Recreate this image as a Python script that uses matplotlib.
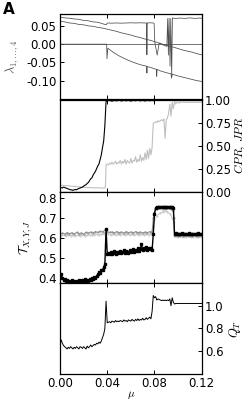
import numpy as np
import matplotlib
matplotlib.use("Agg")
import matplotlib.pyplot as plt
from matplotlib.ticker import FormatStrFormatter

plt.rcParams['mathtext.fontset'] = 'cm'

# ---- panel 1: Lyapunov exponents ----
lam1_mu = [0.000, 0.004, 0.008, 0.012, 0.016, 0.020, 0.024, 0.028, 0.032, 0.036, 0.0392,
           0.0398, 0.0405, 0.044, 0.048, 0.052, 0.056, 0.060, 0.064, 0.068, 0.072, 0.0733,
           0.0736, 0.0739, 0.0760, 0.0790, 0.0797, 0.0803, 0.0823, 0.0840, 0.0860, 0.0880,
           0.0905, 0.0912, 0.0918, 0.0924, 0.0932, 0.0938, 0.0946, 0.0952, 0.0960, 0.098,
           0.102, 0.106, 0.110, 0.114, 0.118, 0.120]
lam1 = [0.074, 0.072, 0.071, 0.069, 0.068, 0.065, 0.064, 0.061, 0.060, 0.056, 0.053,
        0.057, 0.058, 0.0575, 0.058, 0.0575, 0.058, 0.0585, 0.058, 0.0585, 0.058, 0.058,
        -0.029, 0.058, 0.0585, 0.058, 0.057, 0.005, -0.030, 0.003, 0.000, -0.003,
        -0.006, 0.070, -0.030, 0.071, -0.060, 0.070, -0.088, 0.072, 0.071, 0.0705,
        0.0715, 0.0705, 0.072, 0.0705, 0.0715, 0.071]

lam2_mu = [0.000, 0.004, 0.008, 0.012, 0.016, 0.020, 0.024, 0.028, 0.032, 0.036, 0.040,
           0.044, 0.048, 0.052, 0.056, 0.060, 0.064, 0.068, 0.072, 0.076, 0.080, 0.084,
           0.088, 0.092, 0.096, 0.100, 0.104, 0.108, 0.112, 0.116, 0.120]
lam2 = [0.063, 0.061, 0.058, 0.057, 0.054, 0.053, 0.050, 0.049, 0.046, 0.044, 0.041,
        0.038, 0.035, 0.031, 0.028, 0.025, 0.021, 0.018, 0.014, 0.011, 0.007, 0.003,
        -0.001, -0.005, -0.008, -0.012, -0.016, -0.019, -0.022, -0.026, -0.029]

lam3_mu = [0.000, 0.120]
lam3 = [0.000, 0.000]

lam4_mu = [0.000, 0.0395, 0.0398, 0.0405, 0.045, 0.050, 0.055, 0.060, 0.065, 0.070,
           0.0733, 0.0736, 0.0739, 0.0780, 0.0816, 0.0819, 0.0822, 0.085, 0.090, 0.0940,
           0.0945, 0.0950, 0.0960, 0.100, 0.105, 0.110, 0.115, 0.120]
lam4 = [0.000, 0.000, -0.040, -0.011, -0.022, -0.032, -0.040, -0.047, -0.053, -0.058,
        -0.060, -0.079, -0.061, -0.065, -0.069, -0.088, -0.069, -0.073, -0.078, -0.081,
        -0.093, -0.082, -0.083, -0.087, -0.091, -0.095, -0.099, -0.102]

# ---- panel 2: CPR, JPR ----
cpr_mu = ([i / 1000 for i in range(0, 40)] + [0.040, 0.042, 0.044, 0.046, 0.048, 0.050,
          0.052, 0.054, 0.056, 0.058, 0.060, 0.062, 0.064, 0.066, 0.068, 0.070, 0.072,
          0.074, 0.076, 0.078, 0.0795, 0.080, 0.120])
cpr = [0.04, 0.045, 0.04, 0.05, 0.045, 0.04, 0.035, 0.03, 0.025, 0.02,
       0.02, 0.015, 0.02, 0.025, 0.02, 0.03, 0.035, 0.04, 0.045, 0.05,
       0.06, 0.07, 0.075, 0.09, 0.10, 0.12, 0.14, 0.15, 0.18, 0.20,
       0.22, 0.25, 0.28, 0.30, 0.35, 0.40, 0.48, 0.55, 0.72, 0.98,
       0.985, 0.99, 0.982, 0.99, 0.985, 0.992, 0.984, 0.99, 0.986, 0.99, 0.983,
       0.99, 0.986, 0.992, 0.985, 0.99, 0.984, 0.99, 0.986, 0.99, 0.985, 1.0, 1.0]

jpr_mu = ([i / 1000 for i in range(0, 39, 2)] + [0.0385]
          + [i / 1000 for i in range(39, 121)])
jpr = [0.070, 0.068, 0.066, 0.065, 0.063, 0.060, 0.058, 0.055, 0.052, 0.050,
       0.048, 0.046, 0.045, 0.044, 0.043, 0.042, 0.042, 0.041, 0.040, 0.040, 0.06,
       0.29,
       0.30, 0.29, 0.31, 0.30, 0.32, 0.30, 0.31, 0.33, 0.30, 0.32,
       0.31, 0.34, 0.30, 0.33, 0.31, 0.35, 0.30, 0.34, 0.32, 0.31,
       0.36, 0.31, 0.34, 0.33, 0.38, 0.32, 0.35, 0.33, 0.40, 0.33,
       0.37, 0.34, 0.42, 0.35, 0.45, 0.36, 0.47, 0.40, 0.48, 0.74,
       0.75, 0.76, 0.75, 0.77, 0.76, 0.77, 0.78, 0.77, 0.79, 0.58,
       0.78, 0.80, 0.85, 0.95, 0.82, 0.97, 0.90, 0.98, 0.95, 0.97,
       0.97, 0.96, 0.975, 0.97, 0.97, 0.972, 0.968, 0.97, 0.97, 0.972,
       0.97, 0.97, 0.968, 0.97, 0.972, 0.97, 0.97, 0.97, 0.97, 0.97, 0.97]

# ---- panel 3: T_X, T_Y, T_J ----
tj_mu = [i / 1000 for i in range(0, 121)]
tj = [0.415, 0.42, 0.40, 0.39, 0.395, 0.385, 0.39, 0.38, 0.385, 0.38,
      0.39, 0.38, 0.385, 0.378, 0.385, 0.38, 0.39, 0.383, 0.38, 0.39,
      0.385, 0.395, 0.38, 0.39, 0.385, 0.395, 0.39, 0.40, 0.395, 0.405,
      0.40, 0.41, 0.42, 0.43, 0.425, 0.44, 0.44, 0.455, 0.47, 0.645,
      0.52, 0.525, 0.52, 0.53, 0.52, 0.525, 0.535, 0.52, 0.53, 0.525,
      0.53, 0.535, 0.525, 0.53, 0.54, 0.525, 0.535, 0.53, 0.525, 0.54,
      0.53, 0.535, 0.545, 0.53, 0.54, 0.535, 0.55, 0.535, 0.545, 0.57,
      0.54, 0.55, 0.545, 0.555, 0.54, 0.55, 0.545, 0.55, 0.54, 0.62,
      0.72, 0.75, 0.755, 0.755, 0.755, 0.755, 0.755, 0.755, 0.755, 0.755,
      0.755, 0.755, 0.755, 0.755, 0.755, 0.755, 0.75, 0.62, 0.625, 0.62,
      0.622, 0.618, 0.62, 0.624, 0.62, 0.618, 0.622, 0.62, 0.619, 0.623,
      0.62, 0.618, 0.622, 0.62, 0.621, 0.618, 0.62, 0.623, 0.62, 0.619, 0.62]

tx_mu = ([i / 1000 for i in range(0, 79, 2)]
         + [0.079, 0.080, 0.082, 0.085, 0.088, 0.090, 0.092, 0.094, 0.096, 0.0965, 0.097]
         + [i / 1000 for i in range(98, 121, 2)])
tx = [0.618, 0.625, 0.62, 0.627, 0.622, 0.626, 0.62, 0.628, 0.622, 0.625,
      0.62, 0.628, 0.624, 0.63, 0.626, 0.632, 0.628, 0.633, 0.63, 0.64,
      0.632, 0.628, 0.63, 0.626, 0.632, 0.627, 0.63, 0.625, 0.632, 0.627,
      0.63, 0.626, 0.632, 0.627, 0.63, 0.625, 0.63, 0.627, 0.632, 0.628,
      0.70, 0.73, 0.745, 0.75, 0.75, 0.745, 0.75, 0.745, 0.735, 0.70, 0.612,
      0.613, 0.61, 0.612, 0.611, 0.613, 0.61, 0.612, 0.611, 0.613, 0.61, 0.612, 0.611]

ty_mu = ([i / 1000 for i in range(1, 80, 2)]
         + [0.080, 0.082, 0.085, 0.087, 0.0875, 0.088, 0.091, 0.093, 0.095, 0.0962, 0.0968]
         + [i / 1000 for i in range(99, 121, 2)])
ty = [0.612, 0.615, 0.61, 0.616, 0.612, 0.614, 0.61, 0.615, 0.612, 0.616,
      0.611, 0.615, 0.613, 0.617, 0.614, 0.618, 0.615, 0.62, 0.618, 0.63,
      0.62, 0.616, 0.618, 0.614, 0.619, 0.615, 0.618, 0.614, 0.619, 0.615,
      0.618, 0.614, 0.619, 0.615, 0.618, 0.613, 0.618, 0.615, 0.62, 0.66,
      0.69, 0.71, 0.725, 0.73, 0.745, 0.735, 0.73, 0.72, 0.70, 0.68, 0.608,
      0.606, 0.608, 0.605, 0.607, 0.606, 0.608, 0.605, 0.607, 0.606, 0.607, 0.606]

# ---- panel 4: Q_T ----
q_mu = [i / 1000 for i in range(0, 121)]
q = [0.66, 0.70, 0.67, 0.65, 0.64, 0.63, 0.62, 0.635, 0.625, 0.64,
     0.63, 0.62, 0.635, 0.625, 0.64, 0.63, 0.62, 0.64, 0.635, 0.625,
     0.64, 0.63, 0.62, 0.645, 0.63, 0.64, 0.655, 0.64, 0.65, 0.66,
     0.655, 0.67, 0.665, 0.68, 0.67, 0.69, 0.72, 0.75, 0.80, 1.04,
     0.85, 0.855, 0.86, 0.85, 0.865, 0.86, 0.855, 0.87, 0.86, 0.865,
     0.86, 0.87, 0.865, 0.86, 0.875, 0.865, 0.87, 0.86, 0.875, 0.87,
     0.865, 0.88, 0.87, 0.865, 0.88, 0.87, 0.885, 0.87, 0.88, 0.875,
     0.89, 0.875, 0.88, 0.895, 0.88, 0.89, 0.90, 0.885, 0.95, 1.09,
     1.07, 1.08, 1.05, 1.06, 1.055, 1.05, 1.045, 1.05, 1.045, 1.05,
     1.045, 1.05, 1.045, 1.06, 1.00, 1.07, 1.03, 1.015, 1.02, 1.02,
     1.02, 1.02, 1.02, 1.02, 1.02, 1.02, 1.02, 1.02, 1.02, 1.02,
     1.02, 1.02, 1.02, 1.02, 1.02, 1.02, 1.02, 1.02, 1.02, 1.02, 1.02]

xticks = [0.00, 0.04, 0.08, 0.12]

fig = plt.figure(figsize=(2.49, 4.03), dpi=100)
left, width = 0.241, 0.569
ax1 = fig.add_axes([left, 0.7543, width, 0.2109])
ax2 = fig.add_axes([left, 0.5243, width, 0.2288])
ax3 = fig.add_axes([left, 0.2978, width, 0.2266])
ax4 = fig.add_axes([left, 0.0720, width, 0.2258])

for ax in (ax1, ax2, ax3, ax4):
    ax.set_xlim(0, 0.12)
    ax.set_xticks(xticks)
    ax.tick_params(direction='in', length=3, width=0.7, top=True, labelsize=8.5, pad=2.5)
    for s in ax.spines.values():
        s.set_linewidth(0.9)
for ax in (ax1, ax2, ax3):
    ax.tick_params(labelbottom=False)

# panel 1
for m, v in ((lam2_mu, lam2), (lam3_mu, lam3), (lam4_mu, lam4), (lam1_mu, lam1)):
    ax1.plot(m, v, color='0.3', lw=0.55)
ax1.set_ylim(-0.15, 0.0825)
ax1.set_yticks([-0.10, -0.05, 0.00, 0.05])
ax1.yaxis.set_major_formatter(FormatStrFormatter('%.2f'))
ax1.set_ylabel(r'$\lambda_{1,\ldots,4}$', fontsize=9, color='0.35', labelpad=4)

# panel 2
ax2.plot(jpr_mu, jpr, color='0.75', lw=0.8)
ax2.plot(cpr_mu, cpr, color='k', lw=0.8)
ax2.set_ylim(0, 1)
ax2.set_yticks([0, 0.25, 0.5, 0.75, 1.0])
ax2.yaxis.set_major_formatter(FormatStrFormatter('%.2f'))
ax2.yaxis.tick_right()
ax2.yaxis.set_label_position('right')
ax2.tick_params(left=False, right=True)
ax2.set_ylabel(r'$CPR,\, JPR$', fontsize=8.5, labelpad=1)

# panel 3
ax3.plot(ty_mu, ty, color='0.78', lw=0.7, marker='.', ms=1.0)
ax3.plot(tx_mu, tx, color='0.55', lw=0.7, marker='.', ms=1.0)
ax3.plot(tj_mu, tj, color='k', lw=1.0, marker='s', ms=1.6)
ax3.set_ylim(0.377, 0.83)
ax3.set_yticks([0.4, 0.5, 0.6, 0.7, 0.8])
ax3.yaxis.set_major_formatter(FormatStrFormatter('%.1f'))
ax3.set_ylabel(r'$\mathcal{T}_{X,Y,J}$', fontsize=9, labelpad=3)

# panel 4
ax4.plot(q_mu, q, color='k', lw=0.7)
ax4.set_ylim(0.4, 1.2)
ax4.set_yticks([0.6, 0.8, 1.0])
ax4.yaxis.set_major_formatter(FormatStrFormatter('%.1f'))
ax4.yaxis.tick_right()
ax4.yaxis.set_label_position('right')
ax4.tick_params(left=False, right=True)
ax4.set_ylabel(r'$Q_T$', fontsize=9, labelpad=2)
ax4.xaxis.set_major_formatter(FormatStrFormatter('%.2f'))
ax4.set_xlabel(r'$\mu$', fontsize=8, labelpad=-1)

fig.text(0.012, 0.995, 'A', fontsize=11, fontweight='bold', va='top', ha='left')

fig.savefig('out.png', dpi=100)
